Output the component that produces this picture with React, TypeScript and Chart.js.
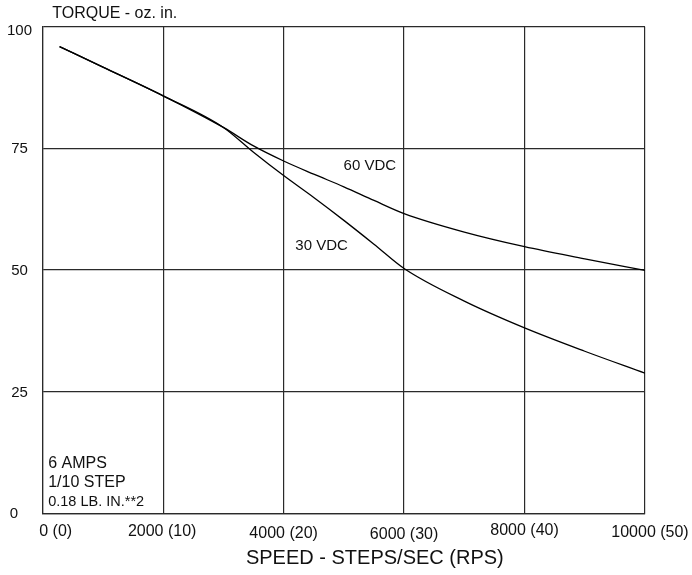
import React, { useEffect, useRef } from "react";
import { Chart, registerables } from "chart.js";

Chart.register(...registerables);

// ---- data ----
const speeds = [280, 1000, 2000, 3000, 3500, 4000, 4500, 5000, 5500, 6000, 7000, 8000, 9000, 10000];
const torque60 = [95.9, 91.7, 85.8, 79.3, 75.5, 72.4, 69.7, 67.1, 64.3, 61.6, 57.8, 54.8, 52.3, 49.9];
const torque30 = [95.9, 91.7, 85.8, 79.3, 74.2, 69.4, 64.9, 60.2, 55.3, 50.3, 43.6, 38.1, 33.3, 28.8];

const xTickValues = [0, 2000, 4000, 6000, 8000, 10000];
const xTickLabels = ["0 (0)", "2000 (10)", "4000 (20)", "6000 (30)", "8000 (40)", "10000 (50)"];
const yTickValues = [100, 75, 50, 25, 0];
const yTickLabels = ["100", "75", "50", "25", "0"];

const yTitle = "TORQUE - oz. in.";
const xTitle = "SPEED - STEPS/SEC (RPS)";
const noteLines = ["6 AMPS", "1/10 STEP", "0.18 LB. IN.**2"];
const curveLabel60 = "60 VDC";
const curveLabel30 = "30 VDC";

// ---- styles / label offsets ----
const FONT = "'Liberation Sans', Arial, sans-serif";
const TEXT = "#111";
const GRID = "#2a2a2a";
const xLabelDx = [13, -1, 0, 0, 0, 5];
const xLabelDy = [18, 18, 20, 21, 17.5, 19.5];

const textPlugin = {
  id: "textPlugin",
  afterDraw(chart: any) {
    const ctx = chart.ctx as CanvasRenderingContext2D;
    const xs = chart.scales.x;
    const ys = chart.scales.y;
    const area = chart.chartArea;
    ctx.save();
    ctx.fillStyle = TEXT;
    ctx.textBaseline = "middle";

    // y tick labels
    ctx.font = `15px ${FONT}`;
    ctx.textAlign = "center";
    yTickValues.forEach((v, i) => {
      let y = ys.getPixelForValue(v) + 1;
      if (y < 31) y = 31;
      const x = v === 0 ? 14 : 19.5;
      ctx.fillText(yTickLabels[i], x, y);
    });

    // x tick labels
    ctx.font = `16px ${FONT}`;
    xTickValues.forEach((v, i) => {
      const x = xs.getPixelForValue(v) + xLabelDx[i];
      const y = area.bottom + xLabelDy[i];
      ctx.fillText(xTickLabels[i], x, y);
    });

    // x title
    ctx.font = `20px ${FONT}`;
    ctx.fillText(xTitle, (area.left + area.right) / 2 + 31, area.bottom + 45);

    // y title
    ctx.textAlign = "left";
    ctx.font = `16px ${FONT}`;
    ctx.fillText(yTitle, area.left + 9.5, area.top - 13);

    // notes
    ctx.font = `16px ${FONT}`;
    ctx.fillText(noteLines[0], area.left + 5.5, ys.getPixelForValue(10.2));
    ctx.fillText(noteLines[1], area.left + 5.5, ys.getPixelForValue(6.4));
    ctx.font = `14.5px ${FONT}`;
    ctx.fillText(noteLines[2], area.left + 5.5, ys.getPixelForValue(2.3));

    // curve labels
    ctx.font = `15px ${FONT}`;
    ctx.fillText(curveLabel60, xs.getPixelForValue(4995), ys.getPixelForValue(71.3));
    ctx.fillText(curveLabel30, xs.getPixelForValue(4195), ys.getPixelForValue(54.9));

    ctx.restore();
  },
};

export default function App() {
  const ref = useRef<HTMLCanvasElement | null>(null);

  useEffect(() => {
    if (!ref.current) return;
    const mk = (label: string, vals: number[]) => ({
      label,
      data: speeds.map((s, i) => ({ x: s, y: vals[i] })),
      borderColor: "#000",
      borderWidth: 1.3,
      pointRadius: 0,
      tension: 0.4,
      cubicInterpolationMode: "monotone",
      fill: false,
    });
    const chart = new Chart(ref.current, {
      type: "line",
      data: {
        datasets: [mk(curveLabel60, torque60), mk(curveLabel30, torque30)],
      },
      options: {
        responsive: false,
        animation: false,
        events: [],
        layout: { padding: { left: 42.7, top: 26.7, right: 47, bottom: 61.7 } },
        plugins: { legend: { display: false }, tooltip: { enabled: false }, title: { display: false } },
        scales: {
          x: {
            type: "linear",
            min: 0,
            max: 10000,
            ticks: { display: false, stepSize: 2000 },
            grid: { color: GRID, lineWidth: 1.2, drawTicks: false },
            border: { display: true, color: GRID, width: 1.2 },
          },
          y: {
            type: "linear",
            min: 0,
            max: 100,
            ticks: { display: false, stepSize: 25 },
            grid: { color: GRID, lineWidth: 1.2, drawTicks: false },
            border: { display: true, color: GRID, width: 1.2 },
          },
        },
      },
      plugins: [textPlugin],
    } as any);
    return () => chart.destroy();
  }, []);

  return (
    <div style={{ position: "absolute", left: 0, top: 0, width: 692, height: 575, background: "#fff" }}>
      <canvas ref={ref} width={692} height={575} />
    </div>
  );
}
